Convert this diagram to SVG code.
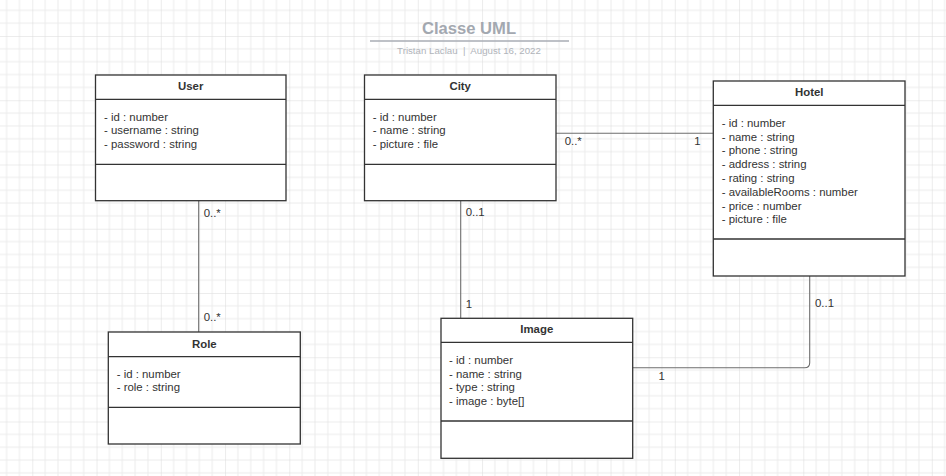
<svg xmlns="http://www.w3.org/2000/svg" width="946" height="476" viewBox="0 0 946 476">
<style>
.box{fill:#fff;stroke:#333;stroke-width:1.3}
.div{stroke:#333;stroke-width:1.3;fill:none}
.hd{font-family:"Liberation Sans",Arial,sans-serif;font-size:11.4px;font-weight:bold;fill:#333;text-anchor:middle}
.at{font-family:"Liberation Sans",Arial,sans-serif;font-size:11.4px;fill:#333}
.lb{font-family:"Liberation Sans",Arial,sans-serif;font-size:11.4px;fill:#333}
.cn{stroke:#6e6e6e;stroke-width:1.1;fill:none}
</style>
<defs>
<pattern id="grid" patternUnits="userSpaceOnUse" x="32.3" y="36" width="64.25" height="64.25">
<path d="M12.85 0V64.25M25.7 0V64.25M38.55 0V64.25M51.4 0V64.25M0 12.85H64.25M0 25.7H64.25M0 38.55H64.25M0 51.4H64.25" stroke="#ececec" stroke-width="1" fill="none"/>
<path d="M0 0V64.25M0 0H64.25" stroke="#dadada" stroke-width="1" fill="none"/>
</pattern>
</defs>
<rect width="946" height="476" fill="#fff"/>
<rect width="946" height="476" fill="url(#grid)"/>
<g id="title">
<text x="469" y="34" font-family="'Liberation Sans',Arial,sans-serif" font-size="16.6" font-weight="bold" fill="#a3a8b0" text-anchor="middle">Classe UML</text>
<line x1="370" y1="41" x2="569" y2="41" stroke="#a8adb5" stroke-width="1.5"/>
<text x="469" y="54" font-family="'Liberation Sans',Arial,sans-serif" font-size="9.7" fill="#b0b4ba" text-anchor="middle" xml:space="preserve">Tristan Laclau  |  August 16, 2022</text>
</g>
<g id="connectors">
<line class="cn" x1="198.7" y1="201" x2="198.7" y2="332"/>
<line class="cn" x1="460.7" y1="201" x2="460.7" y2="318.3"/>
<line class="cn" x1="556" y1="133.3" x2="713.3" y2="133.3"/>
<path class="cn" d="M809.7 276V362.7Q809.7 367.7 804.7 367.7H632.7"/>
<text class="lb" x="203.7" y="217">0..*</text>
<text class="lb" x="203.7" y="321">0..*</text>
<text class="lb" x="465.7" y="215.5">0..1</text>
<text class="lb" x="465.7" y="307.5">1</text>
<text class="lb" x="564.7" y="145">0..*</text>
<text class="lb" x="694.3" y="145">1</text>
<text class="lb" x="815" y="306.7">0..1</text>
<text class="lb" x="658.5" y="380">1</text>
</g>
<g id="user">
<rect class="box" x="95.5" y="75" width="190.5" height="125.7"/>
<line class="div" x1="95.5" y1="99.3" x2="286" y2="99.3"/>
<line class="div" x1="95.5" y1="164.3" x2="286" y2="164.3"/>
<text class="hd" x="190.7" y="90">User</text>
<text class="at" x="104" y="120.7">- id : number</text>
<text class="at" x="104" y="134.4">- username : string</text>
<text class="at" x="104" y="148.1">- password : string</text>
</g>
<g id="city">
<rect class="box" x="364.5" y="75" width="191.5" height="125.7"/>
<line class="div" x1="364.5" y1="99.3" x2="556" y2="99.3"/>
<line class="div" x1="364.5" y1="164.3" x2="556" y2="164.3"/>
<text class="hd" x="460.2" y="90">City</text>
<text class="at" x="372.8" y="120.7">- id : number</text>
<text class="at" x="372.8" y="134.4">- name : string</text>
<text class="at" x="372.8" y="148.1">- picture : file</text>
</g>
<g id="hotel">
<rect class="box" x="713.3" y="81" width="191.7" height="195"/>
<line class="div" x1="713.3" y1="105.3" x2="905" y2="105.3"/>
<line class="div" x1="713.3" y1="239" x2="905" y2="239"/>
<text class="hd" x="809.2" y="95.5">Hotel</text>
<text class="at" x="721.7" y="126.7">- id : number</text>
<text class="at" x="721.7" y="140.5">- name : string</text>
<text class="at" x="721.7" y="154.3">- phone : string</text>
<text class="at" x="721.7" y="168.1">- address : string</text>
<text class="at" x="721.7" y="181.9">- rating : string</text>
<text class="at" x="721.7" y="195.7">- availableRooms : number</text>
<text class="at" x="721.7" y="209.5">- price : number</text>
<text class="at" x="721.7" y="223.3">- picture : file</text>
</g>
<g id="image">
<rect class="box" x="441" y="318.3" width="191.7" height="140"/>
<line class="div" x1="441" y1="342.3" x2="632.7" y2="342.3"/>
<line class="div" x1="441" y1="421" x2="632.7" y2="421"/>
<text class="hd" x="536.8" y="333.3">Image</text>
<text class="at" x="449" y="363.7">- id : number</text>
<text class="at" x="449" y="377.5">- name : string</text>
<text class="at" x="449" y="391.3">- type : string</text>
<text class="at" x="449" y="405.1">- image : byte[]</text>
</g>
<g id="role">
<rect class="box" x="108.3" y="332" width="192" height="112"/>
<line class="div" x1="108.3" y1="356.7" x2="300.3" y2="356.7"/>
<line class="div" x1="108.3" y1="407.3" x2="300.3" y2="407.3"/>
<text class="hd" x="204.3" y="347.5">Role</text>
<text class="at" x="116.7" y="377.7">- id : number</text>
<text class="at" x="116.7" y="391.4">- role : string</text>
</g>
</svg>
